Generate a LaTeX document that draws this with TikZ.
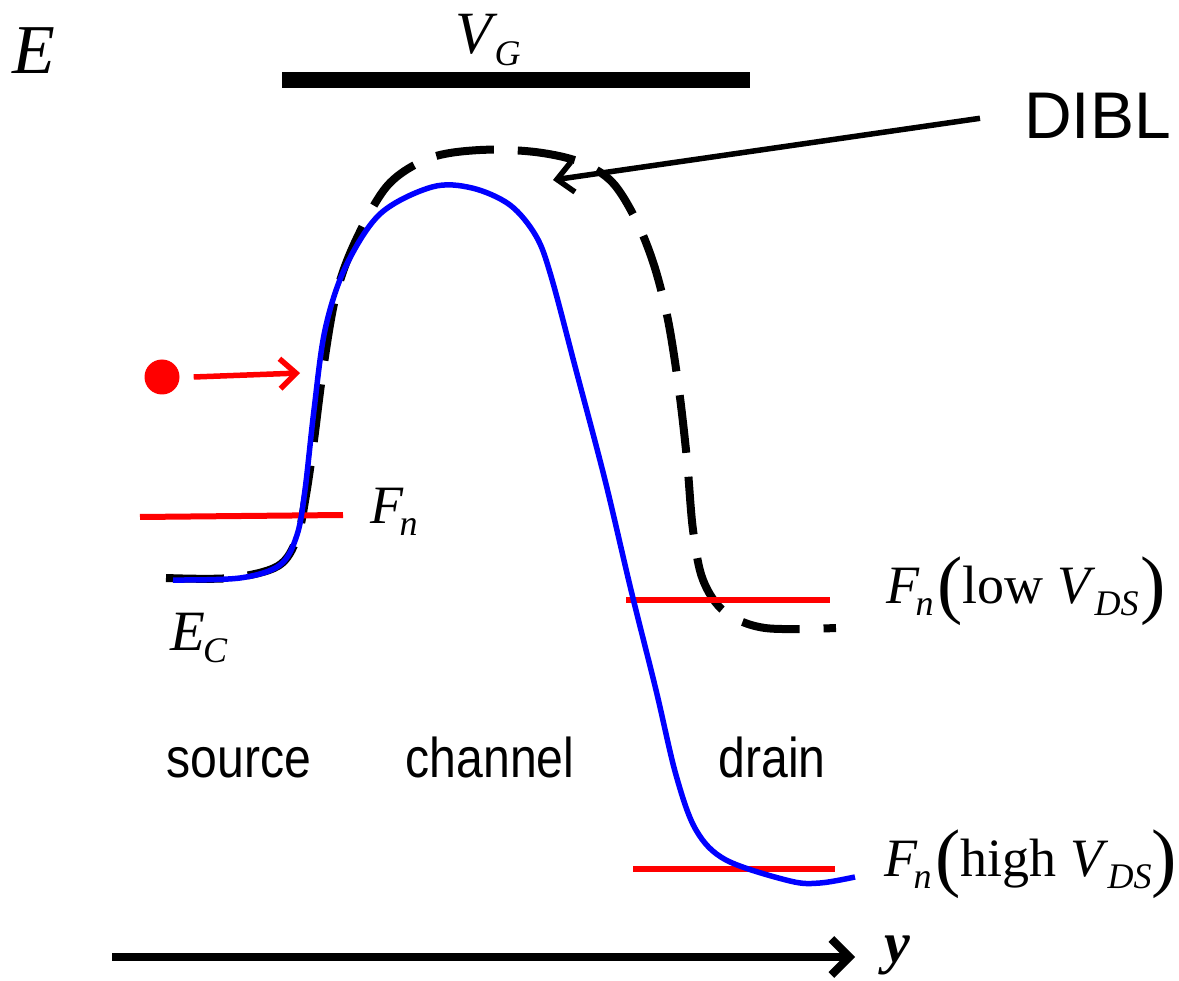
\documentclass[tikz,border=0pt]{standalone}
\usepackage{fontspec}
\setmainfont{Liberation Serif}
\newfontfamily\regionfont{Liberation Sans}
\usetikzlibrary{arrows.meta,positioning}
\definecolor{BandBlue}{HTML}{0000FF}
\definecolor{FermiRed}{HTML}{FF0000}
\newcommand{\fsz}[1]{\fontsize{#1}{#1}\selectfont}
\newcommand{\lowsub}[1]{\raisebox{-12pt}{\fsz{36}\textit{#1}}}
\newcommand{\bigpar}[1]{\raisebox{-6pt}{\fsz{76}#1}}
\newcommand{\Fsub}{\textit{F}\kern-4pt\lowsub{n}}

\begin{document}
\begin{tikzpicture}[x=1pt,y=-1pt,
    symbol/.style={inner sep=0pt,font=\fsz{54}},
    region/.style={inner sep=0pt,font=\regionfont\fsz{56}},
    fermi/.style={draw=FermiRed,line width=6pt},
    band/.style={draw=BandBlue,line width=5.5pt,line join=round},
    dibl/.style={draw=black,line width=8pt,dash pattern=on 58pt off 24pt},
    pointer/.style={-{Straight Barb[length=16pt,width=30pt]},line width=5.5pt}
  ]
    \useasboundingbox (0,0) rectangle (1179,981);

    % axis labels and gate
    \node[symbol,anchor=base west,font=\fsz{70}] (energy) at (12,74) {\textit{E}};
    \node[symbol,anchor=base west,font=\fsz{60}] (gate) at (455,54) {\textit{V}\kern-3pt\lowsub{G}};
    \draw[line width=16pt] (282,80) -- (750,80);

    % conduction band, low and high drain bias
    \draw[dibl] plot[smooth,tension=0.55] coordinates {
      (166,578) (230,578) (278,566) (297,538) (306,495) (314,440)
      (323,370) (336,295) (356,240) (388,185) (430,158) (480,150)
      (535,152) (580,162) (612,182) (636,220) (654,265) (668,320)
      (679,390) (687,460) (693,530) (703,580) (725,612) (765,628)
      (836,628)};
    \draw[fermi] (140,517) -- (343,515);
    \draw[fermi] (626,600) -- (830,600);
    \draw[fermi] (633,869) -- (835,869);
    \draw[band] plot[smooth,tension=0.55] coordinates {
      (173,580) (240,578) (280,565) (297,535) (305,490) (314,410)
      (325,330) (345,268) (380,214) (432,187) (472,188) (510,205)
      (536,236) (551,276) (576,370) (605,480) (631,590) (656,690)
      (676,775) (696,830) (726,860) (790,881) (820,883) (855,877)};

    % electron injected from the source
    \node[circle,fill=FermiRed,minimum size=35pt,inner sep=0pt] (electron) at (162,377) {};
    \coordinate (barrier) at (300,373);
    \draw[pointer,draw=FermiRed] (electron.east) ++(14,0) -- (barrier);

    % DIBL pointer
    \node[inner sep=0pt,anchor=base west,font=\regionfont\fsz{66}] (lowering) at (1024,139) {DIBL};
    \coordinate (barriertop) at (553,180);
    \draw[pointer] (lowering.west) ++(-44,2) -- (barriertop);

    % quasi-Fermi levels and band label
    \node[symbol,anchor=base west] (fsource) at (370,524) {\Fsub};
    \node[symbol,anchor=base west] (conduction) at (170,650) {\fsz{57}\textit{E}\kern-2pt\lowsub{C}};
    \node[symbol,anchor=base west] (flow) at (886,603)
      {\Fsub\kern4pt\bigpar{(}\kern0pt low \textit{V}\kern-1pt\lowsub{DS}\kern2pt\bigpar{)}};
    \node[symbol,anchor=base west] (fhigh) at (884,876)
      {\Fsub\kern4pt\bigpar{(}\kern0pt high \textit{V}\kern-1pt\lowsub{DS}\kern0pt\bigpar{)}};

    % regions
    \node[region,anchor=base] (source) at (239,777) {\scalebox{0.86}[1]{source}};
    \node[region,anchor=base] (channel) at (490,777) {\scalebox{0.86}[1]{channel}};
    \node[region,anchor=base] (drain) at (772,777) {\scalebox{0.86}[1]{drain}};

    % position axis
    \coordinate (ystart) at (112,957);
    \coordinate (yend) at (855,957);
    \draw[line width=8pt,-{Straight Barb[length=18pt,width=36pt]}] (ystart) -- (yend);
    \node[symbol,anchor=base west,font=\fsz{58}\bfseries\itshape] (ylabel) at (884,962) {y};
\end{tikzpicture}
\end{document}
